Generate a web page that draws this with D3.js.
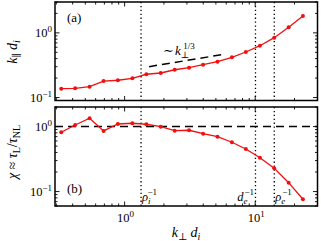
<!DOCTYPE html>
<html><head><meta charset="utf-8">
<script src="https://cdn.jsdelivr.net/npm/d3@7"></script>
<style>body{margin:0;background:#fff}svg{display:block}text{font-family:"Liberation Serif","DejaVu Serif",serif}</style>
</head><body>
<svg id="c" width="321" height="241"></svg>
<script>
const kPerp = [0.327,0.418,0.539,0.690,0.888,1.146,1.467,1.889,2.419,3.115,3.99,5.145,6.63,8.48,10.87,13.99,18.04,23.2];
const kPar  = [0.137,0.139,0.147,0.180,0.185,0.198,0.229,0.2395,0.269,0.289,0.322,0.358,0.419,0.506,0.633,0.842,1.219,1.823];
const chi   = [0.817,1.058,1.342,0.856,1.096,1.124,1.085,0.997,0.865,0.877,0.778,0.699,0.574,0.452,0.332,0.228,0.137,0.0761];
const fitRange = [1.54, 5.69];
const fitCoef = 0.26;
const scaleMarks = [{k:1.336,label:"ρ",sub:"i",anchor:"start"},{k:10.05,label:"d",sub:"e",anchor:"end"},{k:14.0,label:"ρ",sub:"e",anchor:"start"}];
const xTickLabels = [{v:1,e:"0"},{v:10,e:"1"}];
const yTickLabelsA = [{v:1,e:"0"},{v:0.1,e:"−1"}];
const yTickLabelsB = [{v:1,e:"0"},{v:0.1,e:"−1"}];

const svg = d3.select("#c");
const L=55, R=317.5;
const x = d3.scaleLog().domain([0.293,30]).range([L,R]);
const ya = d3.scaleLog().domain([0.09,3]).range([100.5,2]);
const yb = d3.scaleLog().domain([0.06,2]).range([206,107]);
const red="#f01010";

function minorTicks(dom){
  const out=[];
  for(let e=-3;e<3;e++){for(let m=1;m<10;m++){const v=m*Math.pow(10,e); if(v>=dom[0]&&v<=dom[1]) out.push({v,major:m===1});}}
  return out;
}
function panel(y, top, bot){
  const g=svg.append("g");
  minorTicks(x.domain()).forEach(t=>{
    const px=x(t.v), len=t.major?4.5:2.5;
    g.append("line").attr("x1",px).attr("x2",px).attr("y1",bot).attr("y2",bot-len).attr("stroke","#000").attr("stroke-width",0.9);
    g.append("line").attr("x1",px).attr("x2",px).attr("y1",top).attr("y2",top+len).attr("stroke","#000").attr("stroke-width",0.9);
  });
  minorTicks(y.domain()).forEach(t=>{
    const py=y(t.v), len=t.major?4.5:2.5;
    g.append("line").attr("x1",L).attr("x2",L+len).attr("y1",py).attr("y2",py).attr("stroke","#000").attr("stroke-width",0.9);
    g.append("line").attr("x1",R).attr("x2",R-len).attr("y1",py).attr("y2",py).attr("stroke","#000").attr("stroke-width",0.9);
  });
  g.append("rect").attr("x",L).attr("y",top).attr("width",R-L).attr("height",bot-top).attr("fill","none").attr("stroke","#000").attr("stroke-width",1.5);
  scaleMarks.forEach(s=>{
    g.append("line").attr("x1",x(s.k)).attr("x2",x(s.k)).attr("y1",top).attr("y2",bot)
      .attr("stroke","#000").attr("stroke-width",1.3).attr("stroke-dasharray","1.3,2.6");
  });
  return g;
}
function expLabel(g, px, py, e, size){
  const t=g.append("text").attr("x",px).attr("y",py).attr("font-size",size).attr("text-anchor","end");
  t.append("tspan").text("10");
  t.append("tspan").attr("dy",-5.5).attr("font-size",size*0.72).text(e);
  return t;
}

const ga = panel(ya, 2, 100.5);
const gb = panel(yb, 107, 206);

yTickLabelsA.forEach(t=>{ expLabel(ga, 52, ya(t.v)+4.5, t.e, 12.5); });
yTickLabelsB.forEach(t=>{ expLabel(gb, 52, yb(t.v)+4.5, t.e, 12.5); });
xTickLabels.forEach(t=>{
  const tx=gb.append("text").attr("x",x(t.v)+1).attr("y",222).attr("font-size",12.5).attr("text-anchor","middle");
  tx.append("tspan").text("10");
  tx.append("tspan").attr("dy",-5.5).attr("font-size",9).text(t.e);
});

const fitPts=[fitRange[0],fitRange[1]].map(k=>[x(k),ya(fitCoef*Math.cbrt(k))]);
ga.append("path").attr("d",d3.line()(fitPts)).attr("stroke","#000").attr("stroke-width",1.5).attr("stroke-dasharray","8,5").attr("fill","none");
const ft=ga.append("text").attr("x",163).attr("y",55).attr("font-size",13).attr("font-style","italic");
ft.append("tspan").attr("font-style","normal").text("∼");
ft.append("tspan").attr("dx",1).text("k");
ft.append("tspan").attr("dy",2.5).attr("font-size",9).attr("font-style","normal").text("⊥");
ft.append("tspan").attr("dy",-9).attr("dx",-6).attr("font-size",9).attr("font-style","normal").text("1/3");

gb.append("line").attr("x1",L).attr("x2",R).attr("y1",yb(1)).attr("y2",yb(1)).attr("stroke","#000").attr("stroke-width",1.4).attr("stroke-dasharray","8,5");

function series(g,y,vals){
  const pts=kPerp.map((k,i)=>[x(k),y(vals[i])]);
  g.append("path").attr("d",d3.line()(pts)).attr("stroke",red).attr("stroke-width",1.3).attr("fill","none");
  g.selectAll(null).data(pts).enter().append("circle").attr("cx",d=>d[0]).attr("cy",d=>d[1]).attr("r",2).attr("fill",red);
}
series(ga,ya,kPar);
series(gb,yb,chi);

scaleMarks.forEach(s=>{
  const px = s.anchor==="start"? x(s.k)+1 : x(s.k)-1.5;
  const t=gb.append("text").attr("x",px).attr("y",201).attr("font-size",12.5).attr("font-style","italic").attr("text-anchor",s.anchor);
  t.append("tspan").text(s.label);
  t.append("tspan").attr("dy",2.5).attr("font-size",9).text(s.sub);
  t.append("tspan").attr("dy",-9).attr("dx",-3).attr("font-size",9).attr("font-style","normal").text("−1");
});

ga.append("text").attr("x",67).attr("y",22).attr("font-size",13).text("(a)");
gb.append("text").attr("x",67).attr("y",193).attr("font-size",13).text("(b)");

const xl=svg.append("text").attr("x",186).attr("y",237).attr("font-size",14).attr("font-style","italic").attr("text-anchor","middle");
xl.append("tspan").text("k");
xl.append("tspan").attr("dy",3).attr("font-size",10).attr("font-style","normal").text("⊥");
xl.append("tspan").attr("dy",-3).attr("dx",3).text("d");
xl.append("tspan").attr("dy",3).attr("font-size",10).text("i");

const yla=svg.append("text").attr("transform","translate(17,52) rotate(-90)").attr("font-size",14).attr("font-style","italic").attr("text-anchor","middle");
yla.append("tspan").text("k");
yla.append("tspan").attr("dy",3).attr("font-size",10).attr("font-style","normal").text("∥");
yla.append("tspan").attr("dy",-3).attr("dx",3).text("d");
yla.append("tspan").attr("dy",3).attr("font-size",10).text("i");

const ylb=svg.append("text").attr("transform","translate(17,152) rotate(-90)").attr("font-size",14).attr("font-style","italic").attr("text-anchor","middle");
ylb.append("tspan").text("χ");
ylb.append("tspan").attr("font-style","normal").text(" ≈ ");
ylb.append("tspan").text("τ");
ylb.append("tspan").attr("dy",3).attr("font-size",10).attr("font-style","normal").text("L");
ylb.append("tspan").attr("dy",-3).attr("font-style","normal").text("/");
ylb.append("tspan").text("τ");
ylb.append("tspan").attr("dy",3).attr("font-size",10).attr("font-style","normal").text("NL");
</script>
</body></html>
